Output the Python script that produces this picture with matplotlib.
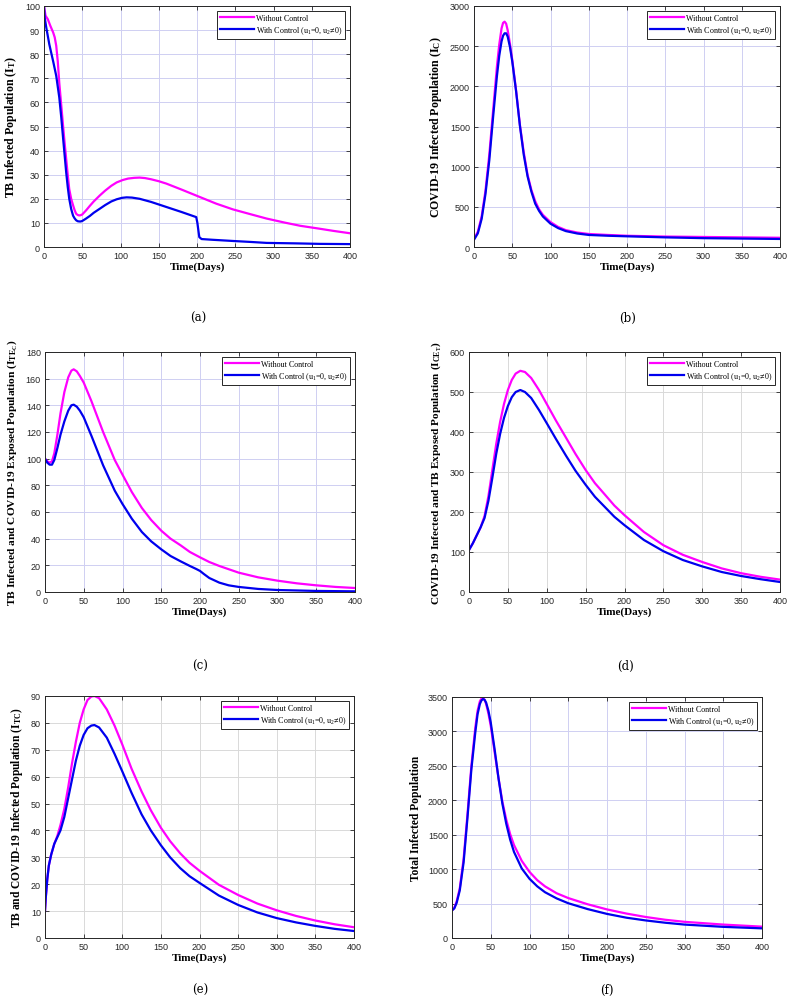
import matplotlib
matplotlib.use("Agg")
import matplotlib.pyplot as plt

plt.rcParams['mathtext.default'] = 'regular'

W, H = 791, 1004

# ---------------- data ----------------
# (a) TB infected
ta_nc = [0, 2, 5, 8, 12, 14, 16, 18, 20, 22.5, 25, 27, 29, 31, 33, 35.5, 38, 40, 42, 44, 46, 48, 50, 55, 60, 65, 73, 80, 88, 95, 103, 110, 118, 125, 132, 140, 150, 160, 180, 204, 225, 247, 270, 291, 315, 335, 360, 378, 400]
ya_nc = [100, 96, 94.5, 92, 89, 87, 83.5, 77, 68, 59, 50, 43, 36.5, 30, 24, 20, 17.3, 15.3, 13.8, 13.3, 13.1, 13.2, 13.5, 15.2, 17.1, 18.9, 21.4, 23.4, 25.4, 26.8, 27.8, 28.4, 28.7, 28.8, 28.6, 28.1, 27.3, 26.3, 23.8, 20.7, 18, 15.6, 13.6, 11.8, 10.1, 8.8, 7.6, 6.7, 5.7]
ta_c = [0, 1, 3, 7, 12, 16, 18, 20, 22.5, 25, 27, 29, 31, 33, 35.5, 38, 40, 42, 44, 46, 48, 50, 55, 60, 65, 73, 80, 88, 95, 102, 108, 115, 125, 140, 160, 180, 199, 200.5, 201.5, 203, 206, 220, 247, 270, 291, 330, 360, 400]
ya_c = [100, 95, 91, 84, 77, 71, 66.5, 62, 54, 45, 38, 31, 25, 20, 15.8, 13, 11.9, 11.1, 10.7, 10.6, 10.6, 10.8, 11.8, 12.9, 14.2, 15.9, 17.4, 18.9, 19.8, 20.4, 20.6, 20.5, 20, 18.7, 16.6, 14.5, 12.4, 10, 7.6, 4.1, 3.3, 3.0, 2.5, 2.1, 1.7, 1.5, 1.3, 1.2]

# (b) COVID-19 infected
tb_nc = [0, 5, 10, 15, 20, 25, 30, 33, 36, 38, 40, 42, 44, 47, 50, 55, 60, 65, 70, 75, 80, 85, 90, 100, 110, 120, 135, 150, 175, 200, 250, 300, 350, 400]
yb_nc = [100, 190, 380, 700, 1150, 1700, 2250, 2520, 2720, 2790, 2805, 2780, 2700, 2530, 2330, 1950, 1520, 1180, 900, 710, 570, 470, 400, 310, 250, 210, 180, 162, 150, 140, 130, 125, 120, 115]
tb_c = [0, 5, 10, 15, 20, 25, 30, 33, 36, 38, 40, 42, 44, 47, 50, 55, 60, 65, 70, 75, 80, 85, 90, 100, 110, 120, 135, 150, 175, 200, 250, 300, 350, 400]
yb_c = [90, 170, 350, 660, 1080, 1620, 2130, 2380, 2560, 2630, 2660, 2660, 2620, 2490, 2310, 1940, 1510, 1150, 880, 690, 540, 450, 380, 290, 235, 198, 168, 150, 140, 133, 120, 110, 105, 100]

# (c) TB infected & COVID-19 exposed
tc_nc = [0, 3, 6, 9, 12, 16, 20, 25, 30, 34, 37, 41, 45, 50, 60, 75, 90, 100, 112, 125, 137, 150, 162, 175, 187, 200, 212, 225, 250, 275, 300, 325, 350, 375, 400]
yc_nc = [100, 98, 97, 98, 104, 118, 134, 150, 161, 166, 167, 165.5, 162, 157, 143, 120, 99, 88, 75, 63, 54, 46, 40, 35, 30, 26, 22.5, 19.5, 14.5, 11, 8.5, 6.5, 5, 3.8, 3]
tc_c = [0, 3, 6, 9, 12, 16, 20, 25, 30, 34, 37, 41, 45, 50, 60, 75, 90, 100, 112, 125, 137, 150, 162, 175, 187, 195, 200, 205, 212, 225, 237, 250, 275, 300, 350, 400]
yc_c = [100, 97, 95.5, 95.5, 99, 108, 118, 128, 136, 140, 140.5, 139, 136, 131, 117, 95, 76, 66, 55, 45, 38, 32, 27, 23, 19.5, 17.3, 15.8, 13.5, 10.5, 7, 5, 3.8, 2.3, 1.5, 0.8, 0.5]

# (d) COVID-19 infected & TB exposed
td_nc = [0, 5, 10, 15, 20, 25, 30, 35, 40, 45, 50, 55, 60, 66, 72, 80, 90, 100, 112, 125, 137, 150, 162, 175, 187, 200, 225, 250, 275, 300, 325, 350, 375, 400]
yd_nc = [105, 122, 142, 162, 190, 240, 305, 370, 425, 470, 505, 530, 546, 553, 550, 535, 505, 470, 428, 385, 345, 305, 272, 243, 216, 192, 150, 117, 93, 75, 59, 47, 38, 31]
td_c = [0, 5, 10, 15, 20, 25, 30, 35, 40, 45, 50, 55, 60, 66, 72, 80, 90, 100, 112, 125, 137, 150, 162, 175, 187, 200, 225, 250, 275, 300, 325, 350, 375, 400]
yd_c = [105, 122, 142, 162, 185, 228, 285, 345, 395, 435, 465, 487, 500, 505, 500, 485, 455, 422, 382, 340, 303, 268, 238, 212, 188, 167, 130, 102, 80, 64, 50, 40, 32, 25]

# (e) TB & COVID-19 infected
te_nc = [0, 1, 3, 5, 8, 12, 16, 20, 25, 30, 35, 40, 45, 50, 55, 60, 64, 70, 80, 90, 100, 112, 125, 137, 150, 162, 175, 187, 200, 225, 250, 275, 300, 325, 350, 375, 400]
ye_nc = [10, 15, 22, 27, 31, 35, 38, 42, 48, 56, 65, 73, 80, 85, 88.5, 89.8, 90, 89.2, 85, 79, 72, 63, 54.5, 47.5, 41, 36, 31.5, 28, 25, 19.8, 16, 12.8, 10.3, 8.2, 6.5, 5.1, 4]
te_c = [0, 1, 3, 5, 8, 12, 16, 20, 25, 30, 35, 40, 45, 50, 55, 60, 64, 70, 80, 90, 100, 112, 125, 137, 150, 162, 175, 187, 200, 225, 250, 275, 300, 325, 350, 375, 400]
ye_c = [10, 15, 22, 27, 31, 35, 37.5, 40, 45, 52, 59, 66, 71.5, 75.5, 78, 79, 79.2, 78.3, 74.5, 68.5, 62, 54, 46, 40, 34.5, 30, 26, 23, 20.5, 15.8, 12.3, 9.5, 7.4, 5.8, 4.5, 3.4, 2.6]

# (f) Total infected
tf_nc = [0, 3, 6, 10, 15, 20, 25, 30, 33, 36, 38, 40, 42, 44, 47, 50, 55, 60, 65, 70, 75, 80, 90, 100, 110, 120, 135, 150, 175, 200, 225, 250, 275, 300, 350, 400]
yf_nc = [400, 440, 530, 720, 1150, 1800, 2500, 3050, 3300, 3440, 3475, 3485, 3460, 3400, 3260, 3080, 2700, 2320, 1980, 1720, 1510, 1350, 1120, 960, 840, 750, 650, 580, 490, 415, 355, 305, 265, 235, 195, 165]
tf_c = [0, 3, 6, 10, 15, 20, 25, 30, 33, 36, 38, 40, 42, 44, 47, 50, 55, 60, 65, 70, 75, 80, 90, 100, 110, 120, 135, 150, 175, 200, 225, 250, 275, 300, 350, 400]
yf_c = [400, 430, 510, 690, 1100, 1750, 2450, 2980, 3250, 3400, 3450, 3470, 3460, 3420, 3300, 3130, 2740, 2320, 1950, 1660, 1430, 1250, 1010, 860, 750, 665, 575, 505, 420, 350, 295, 255, 222, 195, 162, 140]

xlabel = "Time(Days)"
legend_labels = ["Without Control", "With Control (u$_1$=0, u$_2$\u22600)"]
captions = ["(a)", "(b)", "(c)", "(d)", "(e)", "(f)"]
ylabels = [
    "TB Infected Population (I$_T$)",
    "COVID-19 Infected Population (I$_C$)",
    "TB Infected and COVID-19 Exposed Population (I$_{TE_C}$)",
    "COVID-19 Infected and TB Exposed Population (I$_{CE_T}$)",
    "TB and COVID-19 Infected Population (I$_{TC}$)",
    "Total Infected Population",
]
ylims = [(0, 100), (0, 3000), (0, 180), (0, 600), (0, 90), (0, 3500)]
yticks = [range(0, 101, 10), range(0, 3001, 500), range(0, 181, 20),
          range(0, 601, 100), range(0, 91, 10), range(0, 3501, 500)]
series = [
    (ta_nc, ya_nc, ta_c, ya_c),
    (tb_nc, yb_nc, tb_c, yb_c),
    (tc_nc, yc_nc, tc_c, yc_c),
    (td_nc, yd_nc, td_c, yd_c),
    (te_nc, ye_nc, te_c, ye_c),
    (tf_nc, yf_nc, tf_c, yf_c),
]

# layout (pixels): left, right, top, bottom
boxes = [(44, 350, 7, 248), (474, 780, 7, 248),
         (45, 355, 353, 593), (469, 780, 353, 593),
         (45, 354, 697, 939), (452, 762, 698, 939)]
caption_pos = [(198, 318), (628, 318), (200, 666), (625, 666), (200, 990), (607, 990)]
grid_colors = ['#cfcff2', '#cfcff2', '#cfcff2', '#d9d9d9', '#d9d9d9', '#cfcff2']
ylabel_sizes = [8.6, 8.6, 8.2, 8.1, 8.3, 8.3]

fig = plt.figure(figsize=(W / 100, H / 100), dpi=100)

for i in range(6):
    l, r, t, b = boxes[i]
    ax = fig.add_axes([l / W, 1 - b / H, (r - l) / W, (b - t) / H])
    x1, y1, x2, y2 = series[i]
    ax.plot(x1, y1, color='#ff00ff', lw=1.6, label=legend_labels[0])
    ax.plot(x2, y2, color='#0000ee', lw=1.6, label=legend_labels[1])
    ax.set_xlim(0, 400)
    ax.set_ylim(*ylims[i])
    ax.set_xticks(range(0, 401, 50))
    ax.set_yticks(list(yticks[i]))
    ax.grid(True, color=grid_colors[i], lw=0.7)
    ax.set_axisbelow(True)
    ax.tick_params(direction='in', top=True, right=True, length=3, width=0.6,
                   labelsize=6.5, colors='#262626', pad=3)
    for lab in ax.get_xticklabels() + ax.get_yticklabels():
        lab.set_fontfamily('Liberation Sans')
    for s in ax.spines.values():
        s.set_color('#262626')
        s.set_linewidth(0.7)
    ax.set_xlabel(xlabel, fontfamily='Liberation Serif', fontweight='bold', fontsize=8, labelpad=1)
    ax.set_ylabel(ylabels[i], fontfamily='Liberation Serif', fontweight='bold',
                  fontsize=ylabel_sizes[i], labelpad=4)
    leg = ax.legend(loc='upper right', prop={'family': 'Liberation Serif', 'size': 5.8},
                    fancybox=False, framealpha=1, edgecolor='#262626', borderaxespad=0.6,
                    handlelength=4.2, handletextpad=0.3, borderpad=0.35, labelspacing=0.35)
    leg.get_frame().set_linewidth(0.7)
    cx, cy = caption_pos[i]
    fig.text(cx / W, 1 - cy / H, captions[i], fontfamily='DejaVu Serif', fontsize=8.5,
             ha='center', va='center')

fig.savefig('out.png', dpi=100)
